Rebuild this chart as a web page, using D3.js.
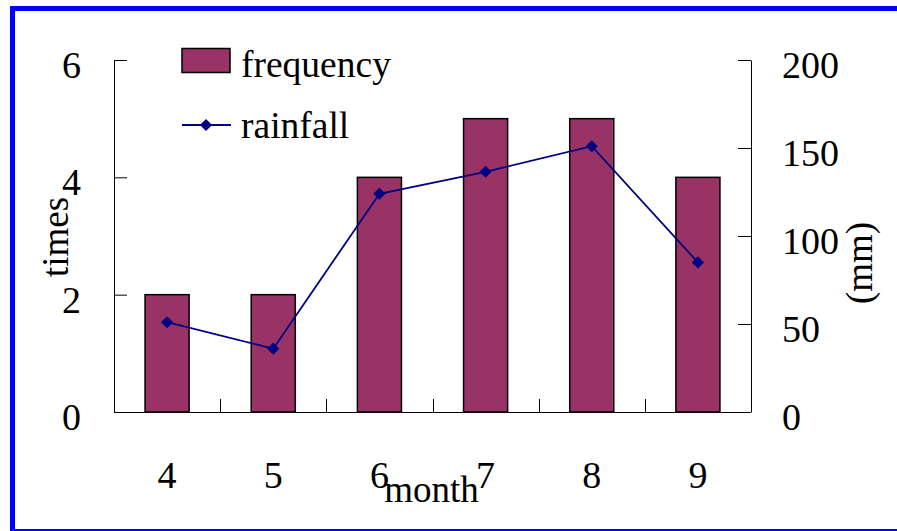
<!DOCTYPE html>
<html>
<head>
<meta charset="utf-8">
<script src="https://cdn.jsdelivr.net/npm/d3@7"></script>
<style>
  html, body { margin: 0; padding: 0; background: #fff; }
  svg { display: block; }
  text { font-family: "Liberation Serif", "Times New Roman", serif; fill: #000; }
</style>
</head>
<body>
<svg id="chart" width="897" height="531"></svg>
<script>
// ---- data ----
const months = ["4", "5", "6", "7", "8", "9"];
const frequency = [2, 2, 4, 5, 5, 4];
const rainfall = [51, 36, 124, 136.5, 151, 85];
const leftTicks = [0, 2, 4, 6];
const rightTicks = [0, 50, 100, 150, 200];
const seriesNames = ["frequency", "rainfall"];
const axisTitles = { left: "times", right: "(mm)", bottom: "month" };

// ---- layout ----
const W = 897, H = 531;
const plot = { left: 114, right: 751, top: 60, bottom: 412 };
const svg = d3.select("#chart");

svg.append("rect").attr("width", W).attr("height", H).attr("fill", "#fff");

const xCat = d3.scaleBand().domain(months).range([plot.left, plot.right]).padding(0);
const xBar = d3.scaleBand().domain(months).range([plot.left, plot.right])
  .paddingInner(0.585).paddingOuter(0.2925);
const yL = d3.scaleLinear().domain([0, 6]).range([plot.bottom, plot.top]);
const yR = d3.scaleLinear().domain([0, 200]).range([plot.bottom, plot.top]);

const fontSize = 38;

// bars
svg.append("g").selectAll("rect").data(months).join("rect")
  .attr("x", (d) => xBar(d))
  .attr("y", (d, i) => yL(frequency[i]))
  .attr("width", xBar.bandwidth())
  .attr("height", (d, i) => yL(0) - yL(frequency[i]))
  .attr("fill", "#993366")
  .attr("stroke", "#000")
  .attr("stroke-width", 1.5);

// left axis
const gL = svg.append("g").attr("transform", `translate(${plot.left},0)`)
  .call(d3.axisLeft(yL).tickValues(leftTicks).tickSizeInner(-13).tickSizeOuter(0).tickPadding(33).tickFormat(d3.format("d")));
gL.select(".domain").attr("stroke", "#000");
gL.selectAll(".tick line").attr("stroke", "#000");
gL.selectAll(".tick text").attr("dy", "0.46em").style("font-size", fontSize + "px")
  .style("font-family", '"Liberation Serif", serif').attr("fill", "#000");

// right axis
const gR = svg.append("g").attr("transform", `translate(${plot.right},0)`)
  .call(d3.axisRight(yR).tickValues(rightTicks).tickSizeInner(-13).tickSizeOuter(0).tickPadding(31).tickFormat(d3.format("d")));
gR.select(".domain").attr("stroke", "#000");
gR.selectAll(".tick line").attr("stroke", "#000");
gR.selectAll(".tick text").attr("dy", "0.46em").style("font-size", fontSize + "px")
  .style("font-family", '"Liberation Serif", serif').attr("fill", "#000");

// bottom axis
const gB = svg.append("g").attr("transform", `translate(0,${plot.bottom})`);
gB.append("line").attr("x1", plot.left).attr("x2", plot.right).attr("y1", 0.5).attr("y2", 0.5)
  .attr("stroke", "#000");
gB.selectAll("line.tk").data(months.slice(1)).join("line").attr("class", "tk")
  .attr("x1", (d) => Math.round(xCat(d)) + 0.5).attr("x2", (d) => Math.round(xCat(d)) + 0.5)
  .attr("y1", 0).attr("y2", -13).attr("stroke", "#000");
gB.selectAll("text").data(months).join("text")
  .attr("x", (d) => xCat(d) + xCat.bandwidth() / 2)
  .attr("y", 76)
  .attr("text-anchor", "middle")
  .style("font-size", fontSize + "px")
  .text((d) => d);

// rainfall line
const pts = months.map((m, i) => [xCat(m) + xCat.bandwidth() / 2, yR(rainfall[i])]);
svg.append("path").datum(pts)
  .attr("d", d3.line())
  .attr("fill", "none").attr("stroke", "#000080").attr("stroke-width", 1.8);
const diamond = d3.symbol().type(d3.symbolDiamond2).size(95);
svg.append("g").selectAll("path").data(pts).join("path")
  .attr("transform", (d) => `translate(${d[0]},${d[1]})`)
  .attr("d", diamond)
  .attr("fill", "#000080");

// axis titles
svg.append("text").attr("transform", "translate(68,237) rotate(-90)")
  .attr("text-anchor", "middle").style("font-size", "37px").text(axisTitles.left);
svg.append("text").attr("transform", "translate(872,263) rotate(-90)")
  .attr("text-anchor", "middle").style("font-size", "37px").text(axisTitles.right);
svg.append("text").attr("x", 431.5).attr("y", 501.5)
  .attr("text-anchor", "middle").style("font-size", "37px").text(axisTitles.bottom);

// legend
const lg = svg.append("g");
lg.append("rect").attr("x", 182).attr("y", 48.5).attr("width", 48).attr("height", 24)
  .attr("fill", "#993366").attr("stroke", "#000").attr("stroke-width", 1.5);
lg.append("text").attr("x", 241).attr("y", 77).style("font-size", "37.5px").text(seriesNames[0]);
lg.append("line").attr("x1", 182).attr("x2", 231).attr("y1", 125).attr("y2", 125)
  .attr("stroke", "#000080").attr("stroke-width", 1.8);
lg.append("path").attr("transform", "translate(206,125)").attr("d", diamond).attr("fill", "#000080");
lg.append("text").attr("x", 241).attr("y", 137.5).style("font-size", "37.5px").text(seriesNames[1]);

// blue frame
svg.append("rect").attr("x", 12.5).attr("y", 8.5).attr("width", 900).attr("height", 523)
  .attr("fill", "none").attr("stroke", "#0000ff").attr("stroke-width", 5);
</script>
</body>
</html>
